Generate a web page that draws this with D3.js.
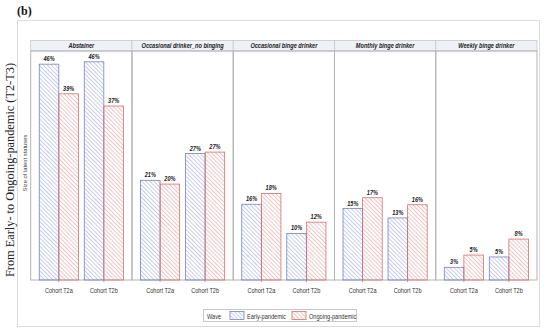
<!DOCTYPE html>
<html>
<head>
<meta charset="utf-8">
<script src="https://cdn.jsdelivr.net/npm/d3@7"></script>
<style>
  body { margin: 0; background: #fff; }
  svg { display: block; }
</style>
</head>
<body>
<div id="chart"></div>
<script>
// statuses (panels), cohorts (x categories), waves (series)
const statuses = ['Abstainer', 'Occasional drinker_no binging', 'Occasional binge drinker', 'Monthly binge drinker', 'Weekly binge drinker'];
const cohorts = ['Cohort T2a', 'Cohort T2b'];
const waves = ['Early-pandemic', 'Ongoing-pandemic'];

// size of latent statuses (%), per status -> [T2a, T2b]
const earlyValues = [[45.9, 46.4], [21.2, 26.9], [16.1, 9.9], [15.2, 13.2], [2.7, 4.9]];
const ongoingValues = [[39.6, 37.0], [20.4, 27.2], [18.4, 12.3], [17.5, 16.0], [5.3, 8.7]];
const earlyLabels = [['46%', '46%'], ['21%', '27%'], ['16%', '10%'], ['15%', '13%'], ['3%', '5%']];
const ongoingLabels = [['39%', '37%'], ['20%', '27%'], ['18%', '12%'], ['17%', '16%'], ['5%', '8%']];

const width = 550;
const height = 332;
const colors = { 'Early-pandemic': '#7483c6', 'Ongoing-pandemic': '#d8706e' };
const sansFont = '"Liberation Sans", Arial, sans-serif';

const svg = d3.select('#chart').append('svg')
    .attr('width', width)
    .attr('height', height);

// condensed text: no narrow font installed, so squeeze horizontally
function narrowText(parent, str, x, y, size, opts = {}) {
    return parent.append('text')
        .text(str)
        .attr('transform', `translate(${x},${y}) scale(${opts.sx || 0.8},1)`)
        .attr('text-anchor', opts.anchor || 'middle')
        .attr('font-family', sansFont)
        .attr('font-size', size)
        .attr('font-weight', opts.bold ? 'bold' : 'normal')
        .attr('font-style', opts.italic ? 'italic' : 'normal')
        .attr('fill', opts.fill || '#222');
}

// hatch patterns
const defs = svg.append('defs');
waves.forEach((w, i) => {
    const p = defs.append('pattern')
        .attr('id', 'hatch' + i)
        .attr('patternUnits', 'userSpaceOnUse')
        .attr('width', 2.9)
        .attr('height', 2.9)
        .attr('patternTransform', 'rotate(-45)');
    p.append('line')
        .attr('x1', 0).attr('y1', 0)
        .attr('x2', 0).attr('y2', 2.9)
        .attr('stroke', colors[w])
        .attr('stroke-width', 0.8);
});

// "(b)"
svg.append('text')
    .text('(b)')
    .attr('x', 17)
    .attr('y', 15)
    .attr('font-family', '"Liberation Serif", "DejaVu Serif", serif')
    .attr('font-weight', 'bold')
    .attr('font-size', 12)
    .attr('fill', '#111');

// outer frame
svg.append('rect')
    .attr('x', 17.5).attr('y', 20.5)
    .attr('width', 522).attr('height', 306)
    .attr('fill', 'none')
    .attr('stroke', '#dcdcdc');

// big left label
svg.append('text')
    .text('From Early- to Ongoing-pandemic (T2-T3)')
    .attr('transform', 'translate(14,170) rotate(-90)')
    .attr('text-anchor', 'middle')
    .attr('font-family', '"Liberation Serif", "DejaVu Serif", serif')
    .attr('font-size', 12.5)
    .attr('textLength', 214)
    .attr('lengthAdjust', 'spacingAndGlyphs')
    .attr('fill', '#222');

// y axis title
svg.append('text')
    .text('Size of latent statuses')
    .attr('transform', 'translate(27,163) rotate(-90)')
    .attr('text-anchor', 'middle')
    .attr('font-family', sansFont)
    .attr('font-size', 5.8)
    .attr('fill', '#444');

const plotLeft = 30.7;
const plotRight = 537;
const stripTop = 40.5;
const stripBottom = 51;
const plotBottom = 280;

const xPanel = d3.scaleBand()
    .domain(statuses)
    .range([plotLeft, plotRight])
    .padding(0);

const y = d3.scaleLinear()
    .domain([0, 48.7])
    .range([plotBottom, stripBottom]);

const xCohort = d3.scaleBand()
    .domain(cohorts)
    .range([0, xPanel.bandwidth()])
    .paddingInner(0.13)
    .paddingOuter(0.19);

const xWave = d3.scaleBand()
    .domain(waves)
    .range([0, xCohort.bandwidth()])
    .padding(0);

statuses.forEach((status, si) => {
    const g = svg.append('g')
        .attr('transform', `translate(${xPanel(status)},0)`);
    const pw = xPanel.bandwidth();

    // strip
    g.append('rect')
        .attr('x', 0).attr('y', stripTop)
        .attr('width', pw).attr('height', stripBottom - stripTop)
        .attr('fill', '#eef2f7')
        .attr('stroke', '#c4c8cc')
        .attr('stroke-width', 0.8);
    narrowText(g, status, pw / 2, stripBottom - 3, 7.2, { bold: true, italic: true, sx: 0.78 });

    // panel frame
    g.append('rect')
        .attr('x', 0).attr('y', stripBottom)
        .attr('width', pw).attr('height', plotBottom - stripBottom)
        .attr('fill', 'none')
        .attr('stroke', '#b4b4b4')
        .attr('stroke-width', 1);

    // bars
    cohorts.forEach((c, ci) => {
        const series = [
            { wave: waves[0], v: earlyValues[si][ci], label: earlyLabels[si][ci] },
            { wave: waves[1], v: ongoingValues[si][ci], label: ongoingLabels[si][ci] }
        ];
        series.forEach((d, wi) => {
            const bx = xCohort(c) + xWave(d.wave);
            g.append('rect')
                .attr('x', bx)
                .attr('y', y(d.v))
                .attr('width', xWave.bandwidth())
                .attr('height', plotBottom - y(d.v))
                .attr('fill', `url(#hatch${wi})`)
                .attr('stroke', colors[d.wave])
                .attr('stroke-width', 0.8);
            narrowText(g, d.label, bx + xWave.bandwidth() / 2, y(d.v) - 3, 7, { bold: true, italic: true, sx: 0.8 });
        });
    });

    // x axis
    const axis = g.append('g')
        .attr('transform', `translate(0,${plotBottom})`)
        .call(d3.axisBottom(xCohort).tickSize(2).tickSizeOuter(0).tickFormat(''));
    axis.select('.domain').remove();
    axis.selectAll('.tick line').attr('stroke', '#999');
    cohorts.forEach(c => {
        narrowText(g, c, xCohort(c) + xCohort.bandwidth() / 2, plotBottom + 12.5, 7, { fill: '#333', sx: 0.8 });
    });
});

// legend
const lg = svg.append('g');
lg.append('rect')
    .attr('x', 203.5).attr('y', 309.5)
    .attr('width', 153).attr('height', 12)
    .attr('fill', '#fff')
    .attr('stroke', '#c8c8c8');
narrowText(lg, 'Wave', 207, 318.5, 7, { anchor: 'start', fill: '#333' });
const legendX = [230, 292];
waves.forEach((w, i) => {
    lg.append('rect')
        .attr('x', legendX[i]).attr('y', 311.5)
        .attr('width', 14).attr('height', 8)
        .attr('fill', `url(#hatch${i})`)
        .attr('stroke', colors[w])
        .attr('stroke-width', 0.8);
    narrowText(lg, w, legendX[i] + 17, 318.5, 7, { anchor: 'start', fill: '#333' });
});
</script>
</body>
</html>
